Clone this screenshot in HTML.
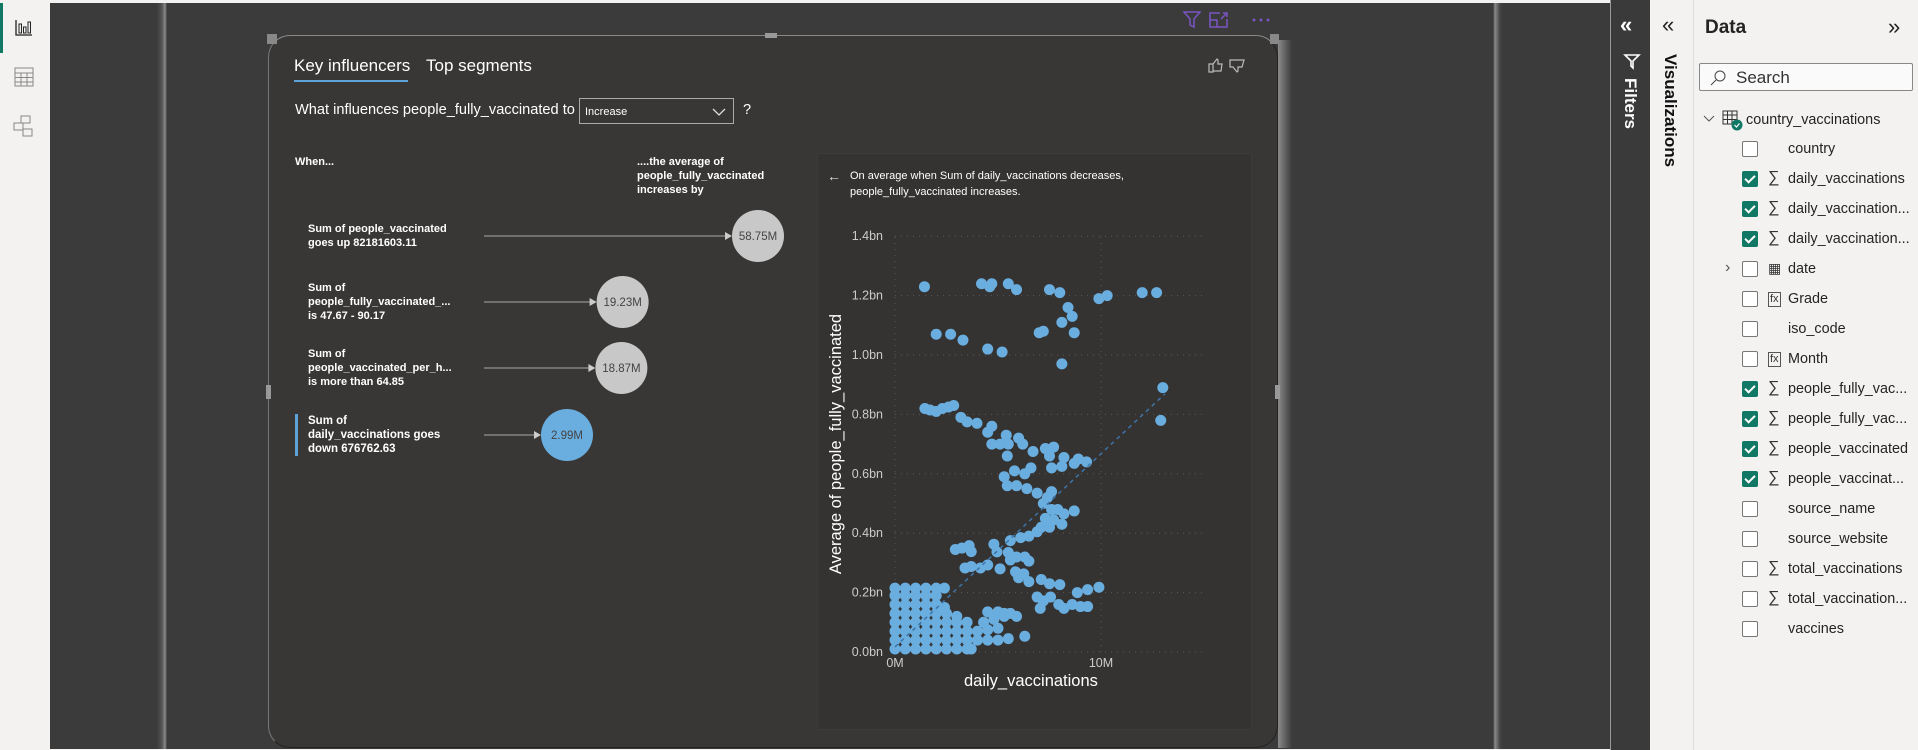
<!DOCTYPE html>
<html><head><meta charset="utf-8">
<style>
*{box-sizing:border-box;margin:0;padding:0}
body{width:1918px;height:750px;overflow:hidden;background:#f3f2f1;font-family:"Liberation Sans",sans-serif;position:relative}
.abs{position:absolute}
.txt{color:#fff;font-size:11px;line-height:14px;font-weight:bold}
.row{position:absolute;left:1742px;height:30px;font-size:14.4px;color:#252423;width:176px}
.cb{width:16px;height:16px;border:1px solid #777;border-radius:2px;background:#fff;position:absolute;left:0;top:7px}
.cb.on{background:#117865;border-color:#117865}
.cb.on::after{content:"";position:absolute;left:4px;top:1px;width:4px;height:8px;border:solid #fff;border-width:0 2px 2px 0;transform:rotate(45deg)}
.sig{position:absolute;left:26px;top:5px;font-size:16px;color:#333}
.lbl{position:absolute;left:46px;top:7px;white-space:nowrap}
</style></head><body>
<div class="abs" style="left:0;top:0;width:50px;height:750px;background:#f3f2f1">
 <div class="abs" style="left:0;top:3px;width:3px;height:50px;background:#117865"></div>
 <svg class="abs" style="left:14px;top:18px" width="20" height="20"><path d="M2 2V17H18" stroke="#222" fill="none" stroke-width="1.3"/><rect x="5" y="6" width="2.5" height="9" stroke="#222" fill="none"/><rect x="9.5" y="9" width="2.5" height="6" stroke="#222" fill="none"/><rect x="14" y="4" width="2.5" height="11" stroke="#222" fill="none"/></svg>
 <svg class="abs" style="left:14px;top:67px" width="20" height="20"><rect x="1" y="1" width="18" height="18" fill="none" stroke="#888"/><path d="M1 6H19M1 10.5H19M1 15H19M7 6V19M13 6V19" stroke="#888"/></svg>
 <svg class="abs" style="left:13px;top:115px" width="22" height="24"><rect x="8" y="1" width="9" height="7" fill="none" stroke="#888"/><rect x="1" y="8" width="9" height="7" fill="none" stroke="#888"/><rect x="10" y="14" width="9" height="7" fill="none" stroke="#888"/></svg>
</div>
<div class="abs" style="left:50px;top:3px;width:1560px;height:746px;background:#3b3b3b"></div>
<div class="abs" style="left:157px;top:3px;width:10px;height:746px;background:linear-gradient(90deg,#3b3b3b,#555 50%,#8a8a8a 80%,#3b3b3b)"></div>
<div class="abs" style="left:1493px;top:3px;width:10px;height:746px;background:linear-gradient(90deg,#3b3b3b,#8a8a8a 20%,#444 70%,#3b3b3b)"></div>
<svg class="abs" style="left:1180px;top:8px" width="100" height="22">
 <path d="M4 4H20L14 11V19L10 17V11Z" fill="none" stroke="#7b54c4" stroke-width="1.5"/>
 <g fill="none" stroke="#7b54c4" stroke-width="1.5"><path d="M40 5H30V19H47V11"/><path d="M30 12H37V19"/><path d="M41 11L47 5M43 5H47V9"/></g>
 <g fill="#7b54c4"><circle cx="74" cy="12" r="1.5"/><circle cx="81" cy="12" r="1.5"/><circle cx="88" cy="12" r="1.5"/></g>
</svg>
<div class="abs" style="left:1278px;top:40px;width:14px;height:708px;background:linear-gradient(90deg,#8a8a8a,#3b3b3b)"></div>
<div class="abs" style="left:268px;top:35px;width:1010px;height:713px;background:#383735;border-radius:22px;border:1px solid #222;border-top-color:#888;border-left-color:#777"></div>
<div class="abs" style="left:765px;top:33px;width:12px;height:5px;background:#999"></div>
<div class="abs" style="left:266px;top:385px;width:5px;height:14px;background:#999"></div>
<div class="abs" style="left:1275px;top:385px;width:5px;height:14px;background:#999"></div>
<div class="abs" style="left:267px;top:34px;width:10px;height:10px;background:#888"></div>
<div class="abs" style="left:1270px;top:34px;width:9px;height:10px;background:#888"></div>

<div class="abs" style="left:294px;top:56px;color:#fff;font-size:17px">Key influencers</div>
<div class="abs" style="left:294px;top:80px;width:114px;height:2px;background:#5ea3d8"></div>
<div class="abs" style="left:426px;top:56px;color:#fff;font-size:17px">Top segments</div>
<svg class="abs" style="left:1206px;top:56px" width="50" height="20"><path d="M3 8H7V16H3ZM7 8L11 3L12 4V8H16L15 15H7" fill="none" stroke="#bbb" stroke-width="1.2"/><path d="M24 4H38L36 11H32V15L31 16L27 11H24Z" fill="none" stroke="#bbb" stroke-width="1.2"/></svg>
<div class="abs" style="left:295px;top:102px;color:#fff;font-size:14.6px">What influences people_fully_vaccinated to</div>
<div class="abs" style="left:579px;top:98px;width:155px;height:26px;border:1px solid #aaa;color:#fff;font-size:11px;padding:7px 0 0 5px">Increase<svg class="abs" style="left:132px;top:8px" width="14" height="10"><path d="M1 2L7 8L13 2" stroke="#ddd" fill="none" stroke-width="1.3"/></svg></div>
<div class="abs" style="left:743px;top:102px;color:#fff;font-size:14.6px">?</div>
<div class="abs txt" style="left:295px;top:155px">When...</div>
<div class="abs txt" style="left:637px;top:155px">....the average of<br>people_fully_vaccinated<br>increases by</div>

<div class="abs txt" style="left:308px;top:222px">Sum of people_vaccinated<br>goes up 82181603.11</div>
<div class="abs txt" style="left:308px;top:281px">Sum of<br>people_fully_vaccinated_...<br>is 47.67 - 90.17</div>
<div class="abs txt" style="left:308px;top:347px">Sum of<br>people_vaccinated_per_h...<br>is more than 64.85</div>
<div class="abs" style="left:295px;top:414px;width:3px;height:42px;background:#5ea3d8"></div>
<div class="abs txt" style="left:308px;top:414px;font-size:11.5px">Sum of<br>daily_vaccinations goes<br>down 676762.63</div>
<svg class="abs" style="left:460px;top:200px" width="330" height="270" id="bub"></svg>

<div class="abs" style="left:817px;top:153px;width:435px;height:577px;background:#343332;border:1px solid #3c3b3a"></div>
<div class="abs" style="left:827px;top:168px;color:#ddd;font-size:14px">←</div>
<div class="abs" style="left:850px;top:168px;color:#fff;font-size:11px;line-height:16px">On average when Sum of daily_vaccinations decreases,<br>people_fully_vaccinated increases.</div>
<svg class="abs" style="left:817px;top:153px" width="435" height="577" id="sc"></svg>

<div class="abs" style="left:1610px;top:0;width:40px;height:750px;background:#3a3a3a;border-left:1px solid #999">
 <div class="abs" style="left:9px;top:12px;color:#fff;font-size:22px;font-weight:bold">«</div>
 <svg class="abs" style="left:12px;top:52px" width="18" height="18"><path d="M2 3H16L10 9V16L8 14V9Z" fill="none" stroke="#fff" stroke-width="1.6"/></svg>
 <div class="abs" style="left:9px;top:78px;color:#fff;font-size:17px;font-weight:bold;writing-mode:vertical-rl">Filters</div>
</div>
<div class="abs" style="left:1650px;top:0;width:44px;height:750px;background:#f3f2f1;border-right:1px solid #ddd">
 <div class="abs" style="left:12px;top:12px;color:#222;font-size:22px">«</div>
 <div class="abs" style="left:10px;top:54px;color:#111;font-size:17px;font-weight:bold;writing-mode:vertical-rl">Visualizations</div>
</div>
<div class="abs" style="left:1694px;top:0;width:224px;height:750px;background:#f3f2f1">
 <div class="abs" style="left:11px;top:17px;font-size:19px;font-weight:bold;color:#252423">Data</div>
 <div class="abs" style="left:194px;top:14px;font-size:22px;color:#222">»</div>
 <div class="abs" style="left:5px;top:63px;width:214px;height:28px;border:1px solid #888;border-radius:2px;background:#fafafa;font-size:17px;color:#333;padding:4px 0 0 36px">Search
  <svg class="abs" style="left:9px;top:6px" width="18" height="16"><circle cx="11" cy="6" r="5" fill="none" stroke="#444"/><path d="M7 10L2 15" stroke="#444"/></svg></div>
 <svg class="abs" style="left:9px;top:114px" width="12" height="10"><path d="M1 2L6 7L11 2" stroke="#555" fill="none"/></svg>
 <svg class="abs" style="left:28px;top:110px" width="22" height="22"><rect x="1" y="1" width="14" height="13" fill="none" stroke="#333"/><path d="M1 5H15M1 9.5H15M5.5 1V14M10 1V14" stroke="#333"/><circle cx="15" cy="15" r="5.5" fill="#117865"/><path d="M12.5 15L14.5 17L17.5 13.5" stroke="#fff" fill="none" stroke-width="1.2"/></svg>
 <div class="abs" style="left:52px;top:112px;font-size:14.4px;color:#252423">country_vaccinations</div>
</div>
<div id="fields"></div>

<script>
// ---- influencers ----
const infValues=[58.75,19.23,18.87,2.99];
const infLabels=["58.75M","19.23M","18.87M","2.99M"];
(function(){
 const s=document.getElementById('bub');const NS="http://www.w3.org/2000/svg";
 const x0=24, cx0=107, cxMax=298; const maxV=58.75, minV=2.99;
 const xs=v=>cx0+(cxMax-cx0)*((v-minV)/(maxV-minV));
 const ys=[36,102,168,235];
 infValues.forEach((v,i)=>{
  const cx=xs(v), cy=ys[i];
  const l=document.createElementNS(NS,'line');
  
  
  l.setAttribute('x1',x0);l.setAttribute('x2',cx-30);l.setAttribute('y1',cy);l.setAttribute('y2',cy);l.setAttribute('stroke','#aaa');s.appendChild(l);
  const p=document.createElementNS(NS,'path');
  
  
  p.setAttribute('d',`M${cx-33} ${cy-4}L${cx-26} ${cy}L${cx-33} ${cy+4}Z`);p.setAttribute('fill','#ccc');s.appendChild(p);
  const c=document.createElementNS(NS,'circle');
  
  
  c.setAttribute('cx',cx);c.setAttribute('cy',cy);c.setAttribute('r',26);c.setAttribute('fill',i==3?'#6aaee0':'#c8c8c8');s.appendChild(c);
  const t=document.createElementNS(NS,'text');
  
  
  t.setAttribute('x',cx);t.setAttribute('y',cy+4);t.setAttribute('text-anchor','middle');t.setAttribute('font-size','11.5');t.setAttribute('fill','#444');t.setAttribute('font-family','Liberation Sans');t.textContent=infLabels[i];s.appendChild(t);
 });
})();

// ---- scatter ----
const yTicks=[0,0.2,0.4,0.6,0.8,1.0,1.2,1.4];
const yTickLabels=["0.0bn","0.2bn","0.4bn","0.6bn","0.8bn","1.0bn","1.2bn","1.4bn"];
const xTicks=[0,10];
const xTickLabels=["0M","10M"];
const trendX=[0,13.1];
const trendY=[0.017,0.869];
const ptsX=[1.43,4.2,4.7,4.6,5.5,5.9,7.5,8.0,9.9,10.3,12.0,12.7,8.4,8.6,8.1,8.7,7.0,7.2,2.0,2.7,3.3,4.5,5.2,8.1,13.0,12.9,
1.45,1.7,2.0,2.3,2.6,2.85,3.2,3.5,3.98,4.5,4.7,5.4,6.0,4.7,5.1,5.5,5.45,6.2,6.7,7.3,7.7,7.5,8.2,7.6,8.1,8.7,8.9,9.3,
5.3,5.8,6.3,6.6,5.45,5.9,6.4,6.9,7.4,7.6,7.2,7.6,7.9,8.2,8.7,7.3,7.7,8.1,7.1,7.5,6.9,6.5,6.1,5.6,
2.93,3.25,3.6,3.7,4.8,4.95,5.5,5.6,5.9,6.3,6.5,3.4,3.7,4.15,4.5,5.1,5.85,6.25,6.0,6.5,7.1,7.5,8.0,
6.9,7.2,7.55,7.95,8.2,8.6,8.85,9.35,9.9,9.0,9.35,7.05,
0,0.5,1,1.5,2,2.5,3,3.5,3.7,
0,0.5,1,1.5,2,2.5,3,3.5,4,4.5,5,5.5,6.3,
0,0.5,1,1.5,2,2.5,3,3.5,4,4.5,5.0,
0,0.5,1,1.5,2,2.5,3,3.5,4.3,4.8,5.3,5.6,
0,0.5,1,1.5,2,2.5,3,4.5,5.0,5.3,5.9,
0,0.5,1,1.5,2,2.4,
0,0.5,1,1.5,2,
0,0.5,1,1.5,2,2.4];
const ptsY=[1.23,1.24,1.24,1.23,1.24,1.22,1.22,1.21,1.19,1.2,1.21,1.21,1.16,1.13,1.11,1.075,1.075,1.08,1.07,1.07,1.05,1.02,1.01,0.97,0.89,0.78,
0.82,0.815,0.81,0.82,0.825,0.83,0.79,0.775,0.77,0.74,0.76,0.73,0.72,0.70,0.70,0.70,0.66,0.70,0.675,0.685,0.69,0.66,0.655,0.62,0.625,0.635,0.65,0.64,
0.59,0.61,0.6,0.62,0.56,0.56,0.55,0.535,0.52,0.54,0.50,0.48,0.48,0.465,0.475,0.45,0.445,0.43,0.42,0.42,0.405,0.39,0.385,0.375,
0.345,0.35,0.358,0.338,0.363,0.337,0.335,0.31,0.32,0.32,0.306,0.283,0.288,0.283,0.293,0.28,0.27,0.263,0.25,0.237,0.244,0.23,0.227,
0.185,0.172,0.185,0.16,0.147,0.16,0.2,0.21,0.218,0.153,0.153,0.147,
0.01,0.01,0.01,0.01,0.01,0.01,0.01,0.01,0.01,
0.04,0.04,0.04,0.04,0.04,0.04,0.04,0.04,0.04,0.04,0.04,0.045,0.053,
0.07,0.07,0.07,0.07,0.07,0.07,0.07,0.07,0.07,0.075,0.08,
0.10,0.10,0.10,0.10,0.10,0.10,0.10,0.10,0.10,0.11,0.12,0.13,
0.13,0.13,0.13,0.13,0.13,0.13,0.12,0.135,0.135,0.13,0.12,
0.16,0.16,0.16,0.16,0.16,0.15,
0.19,0.19,0.19,0.19,0.19,
0.215,0.215,0.215,0.215,0.215,0.215];
(function(){
 const s=document.getElementById('sc');const NS="http://www.w3.org/2000/svg";
 const X=v=>78+v*20.6, Y=v=>499-v*297;
 function el(t,a,n){const e=document.createElementNS(NS,t);for(const k in a)e.setAttribute(k,a[k]);
  
  
  s.appendChild(e);return e;}
 yTicks.forEach((v,i)=>{
  el('line',{x1:X(0),x2:385,y1:Y(v),y2:Y(v),stroke:'#5a5a5a','stroke-dasharray':'1 5'},'y-gridline');
  const t=el('text',{x:X(0)-12,y:Y(v)+4,'text-anchor':'end','font-size':'12.5','fill':'#ccc','font-family':'Liberation Sans'},'y-tick-label');t.textContent=yTickLabels[i];
 });
 xTicks.forEach((v,i)=>{
  el('line',{x1:X(v),x2:X(v),y1:Y(0),y2:Y(1.4),stroke:'#5a5a5a','stroke-dasharray':'1 5'},'x-gridline');
  const t=el('text',{x:X(v),y:Y(0)+15,'text-anchor':'middle','font-size':'12.5','fill':'#ccc','font-family':'Liberation Sans'},'x-tick-label');t.textContent=xTickLabels[i];
 });
 for(let i=0;i<ptsX.length;i++){
  el('circle',{cx:X(ptsX[i]),cy:Y(ptsY[i]),r:5.5,fill:'#6aaee0'},'scatter-point');
 }
 el('line',{x1:X(trendX[0]),y1:Y(trendY[0]),x2:X(trendX[1]),y2:Y(trendY[1]),stroke:'#3d74a8','stroke-width':'1.5','stroke-dasharray':'4 4'},'trend-line');
 const xt=el('text',{x:X(6.6),y:533,'text-anchor':'middle','font-size':'16.5','fill':'#fff','font-family':'Liberation Sans'},'x-axis-title');xt.textContent='daily_vaccinations';
 const yt=el('text',{x:0,y:0,'text-anchor':'middle','font-size':'16.5','fill':'#fff','font-family':'Liberation Sans',transform:'translate(24,291) rotate(-90)'},'y-axis-title');yt.textContent='Average of people_fully_vaccinated';
})();

// ---- data fields ----
const fieldNames=["country","daily_vaccinations","daily_vaccination...","daily_vaccination...","date","Grade","iso_code","Month","people_fully_vac...","people_fully_vac...","people_vaccinated","people_vaccinat...","source_name","source_website","total_vaccinations","total_vaccination...","vaccines"];
const fieldChecked=[0,1,1,1,0,0,0,0,1,1,1,1,0,0,0,0,0];
const fieldType=["","s","s","s","d","f","","f","s","s","s","s","","","s","s",""];
(function(){
 const f=document.getElementById('fields');
 fieldNames.forEach((n,i)=>{
  const r=document.createElement('div');
  
  
  r.className='row';r.style.top=(134+i*30)+'px';
  let ic='';
  if(fieldType[i]=='s')ic='<span class="sig">∑</span>';
  else if(fieldType[i]=='d')ic='<span class="sig" style="font-size:14px;top:6px">▦</span>';
  else if(fieldType[i]=='f')ic='<span class="sig" style="font-size:11px;top:8px;border:1px solid #555;padding:0 1px;line-height:13px">fx</span>';
  r.innerHTML='<span class="cb'+(fieldChecked[i]?' on':'')+'"></span>'+ic+'<span class="lbl">'+n+'</span>'+(fieldType[i]=='d'?'<span style="position:absolute;left:-17px;top:5px;color:#555;font-size:16px">›</span>':'');
  f.appendChild(r);
 });
})();
</script>
</body></html>
